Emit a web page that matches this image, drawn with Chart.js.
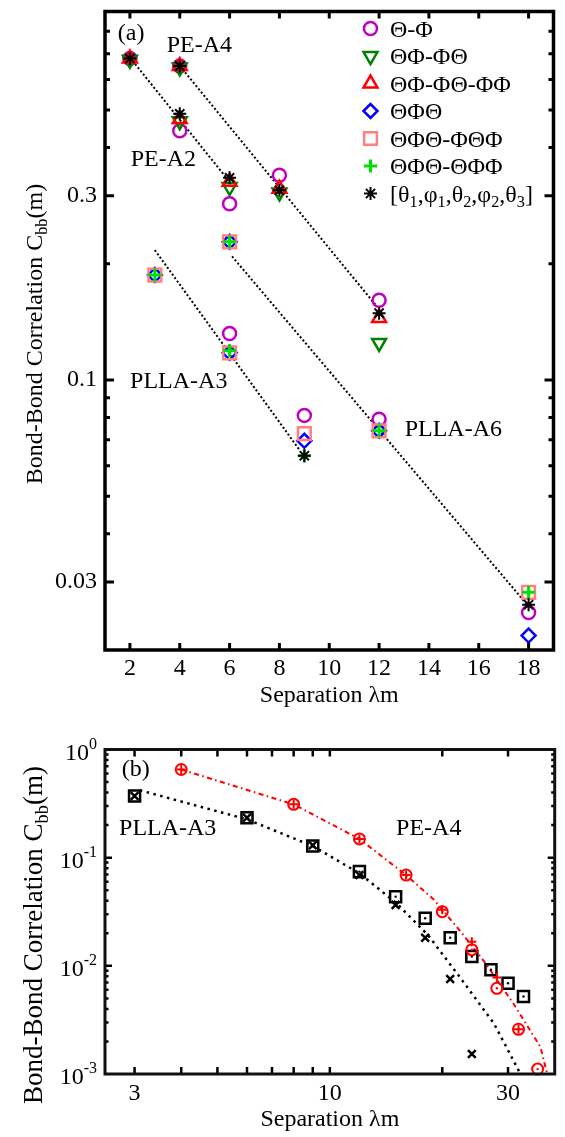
<!DOCTYPE html>
<html><head><meta charset="utf-8">
<script src="https://cdn.jsdelivr.net/npm/chart.js@4/dist/chart.umd.min.js"></script>
<style>
html,body{margin:0;padding:0;background:#fff;width:565px;height:1137px;overflow:hidden}
#c1{position:absolute;left:0;top:0}
#c2{position:absolute;left:0;top:720px}
</style></head><body>
<canvas id="c1" width="565" height="720"></canvas>
<canvas id="c2" width="565" height="417"></canvas>
<script>
// ================= Panel (a) data =================
// x positions: PE-A2 (2,4,6) | PE-A4 (4,8,12) | PLLA-A3 (3,6,9) | PLLA-A6 (6,12,18)
const topX = [2, 4, 6, 4, 8, 12, 3, 6, 9, 6, 12, 18];
const sThetaPhi       = [0.68, 0.442, 0.286, 0.65, 0.339, 0.161, null, 0.132, 0.081, null, 0.0792, 0.025];
const sTPPT           = [0.675, 0.468, 0.316, 0.645, 0.306, 0.1248, null, null, null, null, null, null];
const sTPPTPP         = [0.68, 0.474, 0.326, 0.65, 0.313, 0.1448, null, null, null, null, null, null];
const sTPT            = [null, null, null, null, null, null, 0.187, 0.1176, 0.0696, 0.228, 0.0739, 0.0218];
const sTPTPTP         = [null, null, null, null, null, null, 0.187, 0.1176, 0.0727, 0.228, 0.0739, 0.0282];
const sTPTTPP         = [null, null, null, null, null, null, 0.187, 0.119, 0.0637, 0.228, 0.0739, 0.0282];
const sAll            = [0.68, 0.489, 0.334, 0.65, 0.31, 0.149, null, null, 0.0637, null, null, 0.0262];
const topSeriesNames  = ['Θ-Φ', 'ΘΦ-ΦΘ', 'ΘΦ-ΦΘ-ΦΦ', 'ΘΦΘ', 'ΘΦΘ-ΦΘΦ', 'ΘΦΘ-ΘΦΦ', '[θ_1,φ_1,θ_2,φ_2,θ_3]'];
const topSeriesValues = [sThetaPhi, sTPPT, sTPPTPP, sTPT, sTPTPTP, sTPTTPP, sAll];
// dotted fit lines
const fitPEA2X = [2, 6],      fitPEA2Y = [0.684, 0.326];
const fitPEA4X = [4, 11.9],   fitPEA4Y = [0.651, 0.1554];
const fitA3X   = [3, 8.8],    fitA3Y   = [0.217, 0.066];
const fitA6X   = [6.1, 17.9], fitA6Y   = [0.209, 0.0264];
// ticks
const topXTicks  = [2, 4, 6, 8, 10, 12, 14, 16, 18];
const topYTicks  = [0.03, 0.04, 0.05, 0.06, 0.07, 0.08, 0.09, 0.1, 0.2, 0.3, 0.4, 0.5, 0.6, 0.7, 0.8];
const topYLabels = [0.03, 0.1, 0.3];
// annotations (data coordinates, text baseline)
const topNoteText = ['(a)', 'PE-A4', 'PE-A2', 'PLLA-A3', 'PLLA-A6'];
const topNoteX    = [2.05, 4.79, 3.34, 3.96, 14.98];
const topNoteY    = [0.759, 0.705, 0.359, 0.0954, 0.0717];

// ================= Panel (b) data =================
const botSqX   = [3, 6, 9, 12, 15, 18, 21, 24, 27, 30, 33];
const botSqY   = [0.372, 0.234, 0.128, 0.0743, 0.0436, 0.0275, 0.0182, 0.0122, 0.0092, 0.0069, 0.0052];
const botXmX   = [3, 6, 9, 12, 15, 18, 21, 24];
const botXmY   = [0.372, 0.234, 0.13, 0.069, 0.0366, 0.0182, 0.00757, 0.00153];
const botCircX = [4, 8, 12, 16, 20, 24, 28, 32, 36];
const botCircY = [0.653, 0.311, 0.149, 0.069, 0.0317, 0.0141, 0.0062, 0.00259, 0.00111];
const botPlusX = [4, 8, 12, 16, 20, 24, 28, 32];
const botPlusY = [0.653, 0.311, 0.149, 0.069, 0.033, 0.0167, 0.0078, 0.00259];
const fitBlackX = [3.1, 6, 9, 12, 15.1, 18.3, 22.4, 27.5, 32.4];
const fitBlackY = [0.42, 0.226, 0.128, 0.0717, 0.0378, 0.0193, 0.00768, 0.00293, 0.001];
const fitRedX   = [4, 8, 12, 16, 19, 22.4, 26.1, 31, 36.6, 38.2];
const fitRedY   = [0.653, 0.311, 0.149, 0.069, 0.0408, 0.0207, 0.0106, 0.00448, 0.00179, 0.001];
const botXTicks  = [3, 4, 5, 6, 7, 8, 9, 10, 20, 30];
const botXLabels = [3, 10, 30];
const botYTicks  = [0.002,0.003,0.004,0.005,0.006,0.007,0.008,0.009,0.01,0.02,0.03,0.04,0.05,0.06,0.07,0.08,0.09,0.1,0.2,0.3,0.4,0.5,0.6,0.7,0.8,0.9];
const botYExps   = [0, -1, -2, -3];
const botNoteText = ['(b)', 'PLLA-A3', 'PE-A4'];
const botNoteX    = [3.02, 3.68, 18.4];
const botNoteY    = [0.573, 0.162, 0.162];

// ================= helpers =================
const FONT = "'Liberation Serif','Times New Roman',serif";
function mkPts(xs, ys){ const o=[]; xs.forEach((x,i)=>{ if(ys[i]!=null) o.push({x:x,y:ys[i]}); }); return o; }
function noPad(s){ s.paddingTop=0; s.paddingBottom=0; s.paddingLeft=0; s.paddingRight=0; }

function richSegs(text){
  const segs=[]; let cur=''; let i=0;
  while(i<text.length){
    if(text[i]==='_'){
      if(cur){segs.push({t:cur,sub:false}); cur='';}
      if(text[i+1]==='{'){ const j=text.indexOf('}',i); segs.push({t:text.slice(i+2,j),sub:true}); i=j+1; }
      else { segs.push({t:text[i+1],sub:true}); i+=2; }
    } else { cur+=text[i]; i++; }
  }
  if(cur) segs.push({t:cur,sub:false});
  return segs;
}
function drawRich(ctx, text, x, y, size, align){
  const segs=richSegs(text), sub=size*0.68;
  let w=0;
  segs.forEach(s=>{ ctx.font=(s.sub?sub:size)+'px '+FONT; s.w=ctx.measureText(s.t).width; w+=s.w; });
  let cx = align==='center' ? x-w/2 : (align==='right' ? x-w : x);
  ctx.textAlign='left'; ctx.textBaseline='alphabetic';
  segs.forEach(s=>{ ctx.font=(s.sub?sub:size)+'px '+FONT; ctx.fillText(s.t, cx, y+(s.sub?size*0.24:0)); cx+=s.w; });
}
function marker(ctx, st, x, y){
  ctx.save();
  ctx.strokeStyle=st.color; ctx.fillStyle='rgba(0,0,0,0)'; ctx.lineWidth=st.w;
  if (window.Chart && Chart.helpers && Chart.helpers.drawPoint){
    Chart.helpers.drawPoint(ctx, {pointStyle:st.style, radius:st.r, rotation:st.rot, borderWidth:st.w}, x, y);
  } else {
    ctx.beginPath(); ctx.arc(x,y,st.r,0,Math.PI*2); ctx.stroke();
  }
  ctx.restore();
}
function frameTicks(chart, cfg){
  const {ctx, chartArea:a} = chart; const xs=chart.scales.x, ys=chart.scales.y;
  ctx.save(); ctx.strokeStyle='#000'; ctx.lineCap='butt';
  ctx.lineWidth=cfg.tickW;
  xs.ticks.forEach(t=>{
    const p=xs.getPixelForValue(t.value); if(p<=a.left+2||p>=a.right-2) return;
    const L = cfg.xMajor.includes(t.value)?cfg.xLenMaj:cfg.xLenMin;
    ctx.beginPath(); ctx.moveTo(p,a.bottom); ctx.lineTo(p,a.bottom-L); ctx.moveTo(p,a.top); ctx.lineTo(p,a.top+L); ctx.stroke();
  });
  ys.ticks.forEach(t=>{
    const p=ys.getPixelForValue(t.value); if(p<=a.top+2||p>=a.bottom-2) return;
    const L = cfg.yMajor.includes(t.value)?cfg.yLenMaj:cfg.yLenMin;
    ctx.beginPath(); ctx.moveTo(a.left,p); ctx.lineTo(a.left+L,p); ctx.moveTo(a.right,p); ctx.lineTo(a.right-L,p); ctx.stroke();
  });
  ctx.lineWidth=cfg.frameW; ctx.strokeStyle=cfg.frameColor;
  ctx.strokeRect(a.left,a.top,a.right-a.left,a.bottom-a.top);
  ctx.restore();
}
function notes(chart, texts, xs, ys, size){
  const ctx=chart.ctx; ctx.save(); ctx.fillStyle='#000'; ctx.font=size+'px '+FONT;
  ctx.textAlign='center'; ctx.textBaseline='alphabetic';
  texts.forEach((t,i)=>{ ctx.fillText(t, chart.scales.x.getPixelForValue(xs[i]), chart.scales.y.getPixelForValue(ys[i])); });
  ctx.restore();
}
function yTitle(chart, x, cy, size){
  const ctx=chart.ctx; ctx.save(); ctx.fillStyle='#000'; ctx.translate(x, cy); ctx.rotate(-Math.PI/2);
  drawRich(ctx, 'Bond-Bond Correlation C_{bb}(m)', 0, 0, size, 'center'); ctx.restore();
}

// ================= Panel (a) =================
const topStyles = [
  {style:'circle',   r:6.5, rot:0,   color:'#c000c0', w:2.5},
  {style:'triangle', r:8,   rot:180, color:'#008000', w:2.5},
  {style:'triangle', r:8,   rot:0,   color:'#ff0000', w:2.5},
  {style:'rectRot',  r:7,   rot:0,   color:'#0000ff', w:2.5},
  {style:'rect',     r:9,   rot:0,   color:'#ff8080', w:2.5},
  {style:'cross',    r:6.5, rot:0,   color:'#00e000', w:3},
  {style:'star',     r:6.5, rot:0,   color:'#000000', w:2}
];
const topDatasets = [];
[[fitPEA2X,fitPEA2Y],[fitPEA4X,fitPEA4Y],[fitA3X,fitA3Y],[fitA6X,fitA6Y]].forEach(([xs,ys])=>{
  topDatasets.push({data:mkPts(xs,ys), showLine:true, borderColor:'#000', borderWidth:2, borderDash:[2,2.2], pointRadius:0, order:100, clip:false});
});
topSeriesValues.forEach((vals,i)=>{
  const st=topStyles[i];
  topDatasets.push({label:topSeriesNames[i], data:mkPts(topX, vals), showLine:false,
    pointStyle:st.style, pointRadius:st.r, pointRotation:st.rot, pointBorderColor:st.color,
    pointBackgroundColor:'rgba(0,0,0,0)', pointBorderWidth:st.w, order:20-i, clip:false});
});
new Chart(document.getElementById('c1'), {
  type:'scatter',
  data:{datasets:topDatasets},
  options:{
    responsive:false, animation:false, events:[],
    layout:{padding:{top:7,right:7,left:0,bottom:0}},
    plugins:{legend:{display:false}, tooltip:{enabled:false}},
    scales:{
      x:{type:'linear', min:1, max:19,
         afterBuildTicks:s=>{ s.ticks=topXTicks.map(v=>({value:v})); },
         afterFit:s=>{ s.height=70; noPad(s); },
         grid:{display:false, drawTicks:false}, border:{display:false},
         ticks:{autoSkip:false, maxRotation:0, padding:4, color:'#000', font:{family:FONT,size:24}, callback:v=>String(v)},
         title:{display:true, text:'Separation λm', color:'#000', font:{family:FONT,size:24}, padding:{top:0,bottom:9.6}}},
      y:{type:'logarithmic', min:0.02, max:0.9,
         afterBuildTicks:s=>{ s.ticks=topYTicks.map(v=>({value:v})); },
         afterFit:s=>{ s.width=105; noPad(s); },
         grid:{display:false, drawTicks:false}, border:{display:false},
         ticks:{autoSkip:false, padding:8, color:'#000', font:{family:FONT,size:24},
                callback:v=> topYLabels.includes(v) ? String(v) : ''},
         title:{display:false}}
    }
  },
  plugins:[{id:'decorA', afterDatasetsDraw(chart){
    frameTicks(chart, {tickW:3, frameW:3.5, frameColor:'#000', xMajor:topXTicks, xLenMaj:7, xLenMin:7, yMajor:topYLabels, yLenMaj:9, yLenMin:5});
    notes(chart, topNoteText, topNoteX, topNoteY, 24);
    yTitle(chart, 41.5, 334, 24);
    const ctx=chart.ctx;
    topSeriesNames.forEach((n,i)=>{
      const cy = 28.5 + i*27.5;
      marker(ctx, topStyles[i], 370.5, cy);
      ctx.save(); ctx.fillStyle='#000'; drawRich(ctx, n, 390, cy+8, 24, 'left'); ctx.restore();
    });
  }}]
});

// ================= Panel (b) =================
const botDatasets = [
  {data:mkPts(fitBlackX,fitBlackY), showLine:true, borderColor:'#000', borderWidth:2.5, borderDash:[2.5,4.5], pointRadius:0, order:100},
  {data:mkPts(fitRedX,fitRedY), showLine:true, borderColor:'#ff0000', borderWidth:2, borderDash:[5,3.5,1.5,3.5], pointRadius:0, order:99},
  {label:'PLLA-A3 squares', data:mkPts(botSqX,botSqY), showLine:false, pointStyle:'rect', pointRadius:7.8, pointBorderColor:'#000', pointBackgroundColor:'rgba(0,0,0,0)', pointBorderWidth:2.5, order:50, clip:false},
  {label:'PLLA-A3 dots', data:mkPts(botSqX,botSqY), showLine:false, pointStyle:'circle', pointRadius:1.2, pointBorderColor:'#000', pointBackgroundColor:'#000', pointBorderWidth:0, order:49, clip:false},
  {label:'PLLA-A3 x', data:mkPts(botXmX,botXmY), showLine:false, pointStyle:'crossRot', pointRadius:5.5, pointBorderColor:'#000', pointBorderWidth:2.5, order:48, clip:false},
  {label:'PE-A4 circles', data:mkPts(botCircX,botCircY), showLine:false, pointStyle:'circle', pointRadius:5.5, pointBorderColor:'#ff0000', pointBackgroundColor:'rgba(0,0,0,0)', pointBorderWidth:2, order:40, clip:false},
  {label:'PE-A4 dots', data:mkPts(botCircX,botCircY), showLine:false, pointStyle:'circle', pointRadius:1.2, pointBorderColor:'#ff0000', pointBackgroundColor:'#ff0000', pointBorderWidth:0, order:39, clip:false},
  {label:'PE-A4 plus', data:mkPts(botPlusX,botPlusY), showLine:false, pointStyle:'cross', pointRadius:4.5, pointBorderColor:'#ff0000', pointBorderWidth:2, order:38, clip:false}
];
new Chart(document.getElementById('c2'), {
  type:'scatter',
  data:{datasets:botDatasets},
  options:{
    responsive:false, animation:false, events:[],
    layout:{padding:{top:29.5,right:7,left:0,bottom:0}},
    plugins:{legend:{display:false}, tooltip:{enabled:false}},
    scales:{
      x:{type:'logarithmic', min:2.5, max:40,
         afterBuildTicks:s=>{ s.ticks=botXTicks.map(v=>({value:v})); },
         afterFit:s=>{ s.height=63; noPad(s); },
         grid:{display:false, drawTicks:false}, border:{display:false},
         ticks:{autoSkip:false, maxRotation:0, padding:5, color:'#000', font:{family:FONT,size:24},
                callback:v=> botXLabels.includes(v) ? String(v) : ''},
         title:{display:true, text:'Separation λm', color:'#000', font:{family:FONT,size:24}, padding:{top:0,bottom:2.6}}},
      y:{type:'logarithmic', min:0.001, max:1,
         afterBuildTicks:s=>{ s.ticks=botYTicks.map(v=>({value:v})); },
         afterFit:s=>{ s.width=105; noPad(s); },
         grid:{display:false, drawTicks:false}, border:{display:false},
         ticks:{autoSkip:false, padding:8, color:'#000', font:{family:FONT,size:24}, callback:()=>''},
         title:{display:false}}
    }
  },
  plugins:[{id:'decorB', afterDatasetsDraw(chart){
    frameTicks(chart, {tickW:2.5, frameW:3, frameColor:'#111', xMajor:botXLabels, xLenMaj:7, xLenMin:7, yMajor:[0.01,0.1], yLenMaj:7, yLenMin:3.5});
    notes(chart, botNoteText, botNoteX, botNoteY, 24);
    yTitle(chart, 41.5, 935-720, 27);
    const ctx=chart.ctx, ys=chart.scales.y;
    ctx.save(); ctx.fillStyle='#000'; ctx.textBaseline='alphabetic'; ctx.textAlign='left';
    botYExps.forEach(e=>{
      const py=ys.getPixelForValue(Math.pow(10,e));
      const expStr = e===0 ? '0' : String(e);
      ctx.font='16px '+FONT; const w2=ctx.measureText(expStr).width;
      ctx.font='24px '+FONT; const w1=ctx.measureText('10').width;
      const right=97;
      ctx.fillText('10', right-w2-w1, py+10);
      ctx.font='16px '+FONT; ctx.fillText(expStr, right-w2, py-1);
    });
    ctx.restore();
  }}]
});
</script>
</body></html>
